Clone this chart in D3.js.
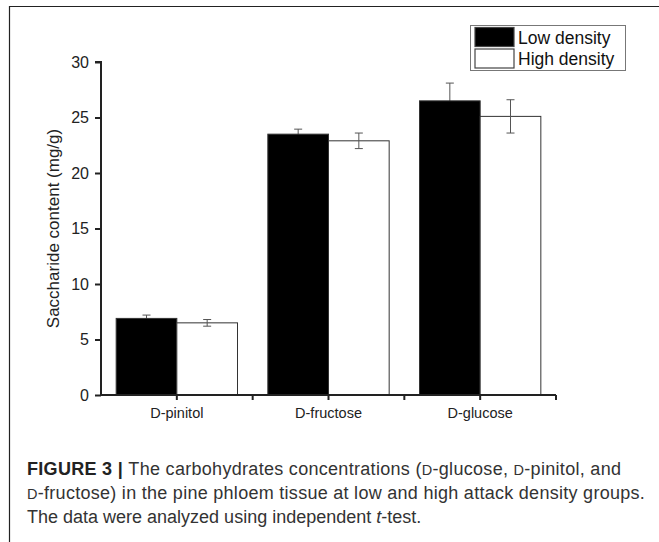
<!DOCTYPE html>
<html>
<head>
<meta charset="utf-8">
<script src="https://cdn.jsdelivr.net/npm/d3@7"></script>
<style>
  body { margin: 0; background: #fff; }
  svg text { font-family: "Liberation Sans", Arial, sans-serif; }
</style>
</head>
<body>
<svg id="chart" width="659" height="542"></svg>
<script>
// data
var categories = ['D-pinitol', 'D-fructose', 'D-glucose'];
var seriesNames = ['Low density', 'High density'];
var lowValues = [6.9, 23.5, 26.5];
var lowErrors = [0.3, 0.45, 1.6];
var highValues = [6.5, 22.9, 25.1];
var highErrors = [0.3, 0.7, 1.5];
var yTicks = [0, 5, 10, 15, 20, 25, 30];

var svg = d3.select('#chart');

// figure frame (top + left rule)
svg.append('path')
  .attr('d', 'M9.5,542 L9.5,6.5 L659,6.5')
  .attr('fill', 'none')
  .attr('stroke', '#222')
  .attr('stroke-width', 1.2);

var plotLeft = 101, plotRight = 556, plotTop = 62, plotBottom = 395;

var x0 = d3.scaleBand().domain(categories).range([plotLeft, plotRight]).paddingInner(0).paddingOuter(0);
var x1 = d3.scaleBand().domain(seriesNames).range([0, x0.bandwidth()]).paddingInner(0).paddingOuter(0.25);
var y = d3.scaleLinear().domain([0, 30]).range([plotBottom, plotTop]);

var rows = categories.map(function(c, i) {
  return [
    { cat: c, s: seriesNames[0], v: lowValues[i], e: lowErrors[i] },
    { cat: c, s: seriesNames[1], v: highValues[i], e: highErrors[i] }
  ];
});
var flat = d3.merge(rows);

function drawErr(sel) {
  sel.each(function(d) {
    var g = d3.select(this);
    var cx = x0(d.cat) + x1(d.s) + x1.bandwidth() / 2;
    var yt = y(d.v + d.e), yb = y(d.v - d.e);
    g.append('line').attr('x1', cx).attr('x2', cx).attr('y1', yt).attr('y2', yb);
    g.append('line').attr('x1', cx - 4).attr('x2', cx + 4).attr('y1', yt).attr('y2', yt);
    g.append('line').attr('x1', cx - 4).attr('x2', cx + 4).attr('y1', yb).attr('y2', yb);
  });
}

// low density error bars go under the bars, so the black bar hides the lower half
svg.append('g').attr('stroke', '#555').attr('stroke-width', 1)
  .selectAll('g').data(flat.filter(function(d) { return d.s === seriesNames[0]; }))
  .enter().append('g').call(drawErr);

svg.append('g').selectAll('rect')
  .data(flat)
  .enter().append('rect')
  .attr('x', function(d) { return x0(d.cat) + x1(d.s); })
  .attr('y', function(d) { return y(d.v); })
  .attr('width', x1.bandwidth())
  .attr('height', function(d) { return y(0) - y(d.v); })
  .attr('fill', function(d) { return d.s === seriesNames[0] ? '#000' : '#fff'; })
  .attr('stroke', '#333')
  .attr('stroke-width', 1);

svg.append('g').attr('stroke', '#555').attr('stroke-width', 1)
  .selectAll('g').data(flat.filter(function(d) { return d.s === seriesNames[1]; }))
  .enter().append('g').call(drawErr);

// axes
var yAxis = d3.axisLeft(y).tickValues(yTicks).tickSize(6).tickPadding(6);
var gy = svg.append('g').attr('transform', 'translate(' + plotLeft + ',0)').call(yAxis);
gy.select('.domain').attr('stroke', '#222').attr('stroke-width', 2).attr('d', 'M-6,' + plotTop + 'H0V' + plotBottom);
gy.selectAll('.tick line').attr('stroke', '#222').attr('stroke-width', 2);
gy.selectAll('.tick text').attr('font-size', 16).attr('fill', '#222');

var xAxis = d3.axisBottom(x0).tickSize(5).tickPadding(8);
var gx = svg.append('g').attr('transform', 'translate(0,' + plotBottom + ')').call(xAxis);
gx.select('.domain').attr('stroke', '#222').attr('stroke-width', 2).attr('d', 'M' + plotLeft + ',0H' + plotRight);
gx.selectAll('.tick line').attr('stroke', '#222').attr('stroke-width', 2);
gx.selectAll('.tick text').attr('font-size', 14.5).attr('fill', '#222');
// boundary ticks between the groups
gx.selectAll('line.sep')
  .data(categories.slice(1).concat(['end']))
  .enter().append('line')
  .attr('class', 'sep')
  .attr('x1', function(d, i) { return plotLeft + x0.bandwidth() * (i + 1); })
  .attr('x2', function(d, i) { return plotLeft + x0.bandwidth() * (i + 1); })
  .attr('y1', 0).attr('y2', 5)
  .attr('stroke', '#222').attr('stroke-width', 2);

svg.append('text')
  .attr('transform', 'translate(59,' + ((plotTop + plotBottom) / 2) + ') rotate(-90)')
  .attr('text-anchor', 'middle')
  .attr('font-size', 17)
  .attr('fill', '#222')
  .text('Saccharide content (mg/g)');

// legend
var lg = svg.append('g').attr('transform', 'translate(470,25)');
lg.append('rect').attr('x', 0.5).attr('y', 0.5).attr('width', 155).attr('height', 45)
  .attr('fill', '#fff').attr('stroke', '#777');
seriesNames.forEach(function(s, i) {
  lg.append('rect')
    .attr('x', 5).attr('y', 2.5 + i * 21.5).attr('width', 39).attr('height', 19)
    .attr('fill', i === 0 ? '#000' : '#fff')
    .attr('stroke', '#444').attr('stroke-width', 1.2);
  lg.append('text')
    .attr('x', 48).attr('y', 18.5 + i * 21.5)
    .attr('font-size', 17.5).attr('fill', '#111')
    .text(s);
});

// caption
var capLines = [
  [['b', 'FIGURE 3 | '], ['n', 'The carbohydrates concentrations ('], ['sc', 'D'], ['n', '-glucose, '], ['sc', 'D'], ['n', '-pinitol, and']],
  [['sc', 'D'], ['n', '-fructose) in the pine phloem tissue at low and high attack density groups.']],
  [['n', 'The data were analyzed using independent '], ['i', 't'], ['n', '-test.']]
];
var capSpacing = [0.3, 0.28, 0];
var cap = svg.append('g').attr('fill', '#333');
capLines.forEach(function(line, li) {
  var t = cap.append('text').attr('x', 27).attr('y', 475 + li * 24)
    .attr('font-size', 18).attr('letter-spacing', capSpacing[li]);
  line.forEach(function(part) {
    var ts = t.append('tspan').text(part[1]);
    if (part[0] === 'b') ts.attr('font-weight', 'bold').attr('fill', '#222');
    if (part[0] === 'i') ts.attr('font-style', 'italic');
    if (part[0] === 'sc') ts.attr('font-size', 14.5);
  });
});
</script>
</body>
</html>
